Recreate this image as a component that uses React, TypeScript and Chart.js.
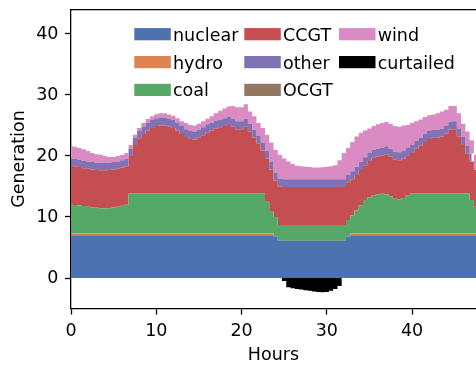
import { useEffect, useRef } from 'react';
import { Chart, registerables } from 'chart.js';

Chart.register(...registerables);

// Half-hourly steps, 0 .. 47.5 h
const HOURS: number[] = Array.from({ length: 96 }, (_, i) => i * 0.5);

const nuclear = [
  7, 7, 7, 7, 7, 7, 7, 7, 7, 7, 7, 7, 7, 7, 7, 7, 7, 7, 7, 7, 7, 7, 7, 7,
  7, 7, 7, 7, 7, 7, 7, 7, 7, 7, 7, 7, 7, 7, 7, 7, 7, 7, 7, 7, 7, 7, 7, 7,
  6.8, 6.1, 6.1, 6.1, 6.1, 6.1, 6.1, 6.1, 6.1, 6.1, 6.1, 6.1, 6.1, 6.1, 6.1, 6.1, 6.1, 6.8,
  7, 7, 7, 7, 7, 7, 7, 7, 7, 7, 7, 7, 7, 7, 7, 7, 7, 7, 7, 7, 7, 7, 7, 7, 7, 7, 7, 7, 7, 7,
];

const hydro = [
  0.35, 0.35, 0.35, 0.35, 0.35, 0.35, 0.35, 0.35, 0.35, 0.35, 0.35, 0.35,
  0.35, 0.35, 0.35, 0.35, 0.35, 0.35, 0.35, 0.35, 0.35, 0.35, 0.35, 0.35,
  0.35, 0.35, 0.35, 0.35, 0.35, 0.35, 0.35, 0.35, 0.35, 0.35, 0.35, 0.35,
  0.35, 0.35, 0.35, 0.35, 0.35, 0.35, 0.35, 0.35, 0.35, 0.35, 0.35, 0.35,
  0, 0, 0, 0, 0, 0, 0, 0, 0, 0, 0, 0, 0, 0, 0, 0, 0, 0,
  0.35, 0.35, 0.35, 0.35, 0.35, 0.35, 0.35, 0.35, 0.35, 0.35, 0.35, 0.35, 0.35, 0.35, 0.35,
  0.35, 0.35, 0.35, 0.35, 0.35, 0.35, 0.35, 0.35, 0.35, 0.35, 0.35, 0.35, 0.35, 0.35, 0.35,
];

const coal = [
  4.65, 4.6, 4.55, 4.45, 4.35, 4.25, 4.15, 4.1, 4.05, 4.1, 4.2, 4.35, 4.5, 4.65,
  6.55, 6.55, 6.55, 6.55, 6.55, 6.55, 6.55, 6.55, 6.55, 6.55, 6.55, 6.55, 6.55, 6.55, 6.55, 6.55,
  6.55, 6.55, 6.55, 6.55, 6.55, 6.55, 6.55, 6.55, 6.55, 6.55, 6.55, 6.55, 6.55, 6.55, 6.55, 6.55,
  5.15, 3.65, 3.2,
  2.6, 2.6, 2.6, 2.6, 2.6, 2.6, 2.6, 2.6, 2.6, 2.6, 2.6, 2.6, 2.6, 2.6, 2.6, 2.6,
  2.7, 2.95, 3.75, 4.55, 5.45, 5.85, 6.15, 6.35, 6.45, 6.35, 6.05, 5.65, 5.55, 5.75, 6.15,
  6.55, 6.55, 6.55, 6.55, 6.55, 6.55, 6.55, 6.55, 6.55, 6.55, 6.55, 6.55, 6.55, 6.55,
  5.45, 4.35,
];

const ccgt = [
  6.4, 6.35, 6.3, 6.2, 6.2, 6.2, 6.2, 6.2, 6.25, 6.25, 6.25, 6.2, 6.25, 6.3,
  6.1, 7.9, 9.0, 9.7, 10.3, 10.7, 11.0, 11.1, 11.1, 10.9, 10.7, 10.3, 9.7, 9.2, 8.9, 8.8,
  9.1, 9.5, 10.0, 10.3, 10.6, 10.8, 11.0, 11.2, 10.9, 10.5, 10.5, 10.9, 10.1, 9.1, 8.1, 7.0,
  7.1, 6.8, 6.0, 6.3,
  6.2, 6.2, 6.2, 6.2, 6.2, 6.2, 6.2, 6.2, 6.2, 6.2, 6.2, 6.2, 6.2, 6.2, 6.2,
  6.1, 5.9, 5.8, 5.8, 5.7, 6.0, 6.2, 6.2, 6.3, 6.6, 6.5, 6.4, 6.4, 6.5, 6.5,
  6.6, 7.3, 7.8, 8.4, 8.9, 9.1, 9.1, 9.3, 9.8, 10.4, 10.5, 9.3, 7.9, 6.5, 6.3, 6.0,
];

const other = [
  1.2, 1.2, 1.2, 1.2, 1.2, 1.2, 1.2, 1.2, 1.2, 1.2, 1.2, 1.2, 1.2, 1.2, 1.2, 1.2, 1.2,
  1.25, 1.3, 1.3, 1.3, 1.3, 1.3, 1.3, 1.3, 1.3, 1.3, 1.3, 1.3, 1.3, 1.3, 1.3,
  1.3, 1.3, 1.3, 1.3, 1.3, 1.3, 1.3, 1.3, 1.3, 1.3, 1.3, 1.3, 1.3, 1.3, 1.3, 1.3,
  1.3, 1.3, 1.3, 1.3, 1.3, 1.3, 1.3, 1.3, 1.3, 1.3, 1.3, 1.3, 1.3, 1.3, 1.3, 1.3,
  1.3, 1.3, 1.3, 1.3, 1.3, 1.3, 1.3, 1.3, 1.3, 1.3, 1.3, 1.3, 1.3, 1.3, 1.3, 1.3,
  1.3, 1.3, 1.3, 1.3, 1.3, 1.3, 1.3, 1.3, 1.3, 1.3, 1.3, 1.3, 1.3, 1.3, 1.3,
];

const ocgt = [
  0, 0, 0, 0, 0, 0, 0, 0, 0, 0, 0, 0, 0, 0, 0, 0, 0, 0, 0, 0, 0, 0, 0, 0,
  0, 0, 0, 0, 0, 0, 0, 0, 0, 0, 0, 0, 0, 0, 0, 0, 0, 0, 0, 0, 0, 0, 0, 0,
  0, 0, 0, 0, 0, 0, 0, 0, 0, 0, 0, 0, 0, 0, 0, 0, 0, 0, 0, 0, 0, 0, 0, 0,
  0, 0, 0, 0, 0, 0, 0, 0, 0, 0, 0, 0, 0, 0, 0, 0, 0, 0, 0, 0, 0, 0, 0, 0,
];

const wind = [
  2.0, 2.0, 1.9, 1.9, 1.7, 1.5, 1.4, 1.35, 1.15, 0.95, 0.85, 0.9, 0.85, 1.0, 0.6, 0.5, 0.5,
  0.55, 0.55, 0.6, 0.65, 0.7, 0.7, 0.7, 0.7, 0.7, 0.8, 1.0, 1.0, 1.0, 1.0, 1.0,
  0.9, 1.0, 1.2, 1.4, 1.6, 1.7, 2.1, 2.3, 2.3, 2.4, 2.0, 2.2, 2.1, 2.4, 2.6, 3.1, 3.7, 3.9,
  3.4, 2.9, 2.5, 2.2, 2.1, 2.05, 2.0, 1.9, 1.9, 1.95, 2.05, 2.1, 2.3, 3.1, 4.3,
  4.4, 4.8, 5.0, 4.8, 4.4, 4.0, 3.9, 4.0, 4.0, 4.0, 4.1, 4.2, 4.2, 4.1, 3.8,
  3.6, 3.2, 3.0, 2.8, 2.6, 2.5, 2.7, 2.8, 2.6, 2.6, 2.5, 2.5, 2.2, 2.3, 2.2, 2.5,
];

const curtailed = [
  0, 0, 0, 0, 0, 0, 0, 0, 0, 0, 0, 0, 0, 0, 0, 0, 0, 0, 0, 0, 0, 0, 0, 0, 0,
  0, 0, 0, 0, 0, 0, 0, 0, 0, 0, 0, 0, 0, 0, 0, 0, 0, 0, 0, 0, 0, 0, 0, 0, 0,
  -0.5, -1.5, -1.7, -1.8, -1.9, -2.0, -2.1, -2.2, -2.3, -2.35, -2.3, -2.1, -1.8, -1.3,
  0, 0, 0, 0, 0, 0, 0, 0, 0, 0, 0, 0, 0, 0, 0, 0,
  0, 0, 0, 0, 0, 0, 0, 0, 0, 0, 0, 0, 0, 0, 0, 0,
];

const X_TICKS = [0, 10, 20, 30, 40];
const Y_TICKS = [0, 10, 20, 30, 40];

const COLORS = {
  nuclear: '#4C72B0',
  hydro: '#DD8452',
  coal: '#55A868',
  CCGT: '#C44E52',
  other: '#8172B3',
  OCGT: '#937860',
  wind: '#DA8BC3',
  curtailed: '#000000',
};

const FONT_FAMILY = '"DejaVu Sans", sans-serif';
const FONT_SIZE = 17.5;

// legend layout in 3 columns
const LEGEND_COLUMNS: string[][] = [
  ['nuclear', 'hydro', 'coal'],
  ['CCGT', 'other', 'OCGT'],
  ['wind', 'curtailed'],
];

export default function App() {
  const ref = useRef<HTMLCanvasElement | null>(null);

  useEffect(() => {
    if (!ref.current) return;

    const mk = (label: string, values: number[], fill: any, stack: string) => ({
      label,
      data: values.map((y, i) => ({ x: HOURS[i], y })),
      backgroundColor: (COLORS as any)[label],
      borderColor: (COLORS as any)[label],
      borderWidth: 0,
      pointRadius: 0,
      pointHoverRadius: 0,
      stepped: 'middle' as const,
      fill,
      stack,
    });

    const topSpine = {
      id: 'topSpine',
      afterDraw(chart: any) {
        const { ctx, chartArea } = chart;
        ctx.save();
        ctx.strokeStyle = '#000';
        ctx.lineWidth = 1.3;
        ctx.beginPath();
        ctx.moveTo(chartArea.left - 0.65, chartArea.top);
        ctx.lineTo(chartArea.right + 2, chartArea.top);
        ctx.stroke();
        ctx.restore();
      },
    };

    const legendPlugin = {
      id: 'customLegend',
      afterDraw(chart: any) {
        const { ctx } = chart;
        const colX = [134.3, 244.3, 339];
        const rowY = [34.2, 62.1, 89.9];
        const pw = 36.5;
        const ph = 12.2;
        ctx.save();
        ctx.font = `${FONT_SIZE}px ${FONT_FAMILY}`;
        ctx.textBaseline = 'alphabetic';
        ctx.textAlign = 'left';
        LEGEND_COLUMNS.forEach((col, ci) => {
          col.forEach((name, ri) => {
            const x = colX[ci];
            const cy = rowY[ri];
            ctx.fillStyle = (COLORS as any)[name];
            ctx.fillRect(x, cy - ph / 2, pw, ph);
            ctx.fillStyle = '#000';
            ctx.fillText(name, x + pw + 2.2, cy + 6.5);
          });
        });
        ctx.restore();
      },
    };

    const tickFont = { family: FONT_FAMILY, size: FONT_SIZE };

    const chart = new Chart(ref.current, {
      type: 'line',
      data: {
        datasets: [
          mk('nuclear', nuclear, 'origin', 'gen'),
          mk('hydro', hydro, '-1', 'gen'),
          mk('coal', coal, '-1', 'gen'),
          mk('CCGT', ccgt, '-1', 'gen'),
          mk('other', other, '-1', 'gen'),
          mk('OCGT', ocgt, '-1', 'gen'),
          mk('wind', wind, '-1', 'gen'),
          mk('curtailed', curtailed, 'origin', 'curt'),
        ] as any,
      },
      options: {
        animation: false,
        responsive: false,
        devicePixelRatio: 1,
        layout: { padding: { top: 9.6, right: 0, left: 0, bottom: 0 } },
        plugins: {
          legend: { display: false },
          tooltip: { enabled: false },
        },
        elements: { line: { tension: 0 } },
        scales: {
          x: {
            type: 'linear',
            min: 0,
            max: 47.5,
            afterBuildTicks: (s: any) => {
              s.ticks = X_TICKS.map((v) => ({ value: v }));
            },
            afterFit: (s: any) => {
              s.height = 56.5;
              s.paddingLeft = 0;
              s.paddingRight = 0;
            },
            grid: {
              display: true,
              drawOnChartArea: false,
              drawTicks: true,
              tickLength: 6,
              tickColor: '#000',
              tickWidth: 1.3,
            },
            border: { display: true, color: '#000', width: 1.3 },
            ticks: {
              color: '#000',
              font: tickFont,
              padding: 6.5,
              maxRotation: 0,
              autoSkip: false,
            },
            title: {
              display: true,
              text: 'Hours',
              color: '#000',
              font: tickFont,
              padding: { top: 0, bottom: -1 },
            },
          },
          y: {
            type: 'linear',
            stacked: true,
            min: -5,
            max: 44,
            afterBuildTicks: (s: any) => {
              s.ticks = Y_TICKS.map((v) => ({ value: v }));
            },
            afterFit: (s: any) => {
              s.width = 71;
              s.paddingTop = 0;
              s.paddingBottom = 0;
            },
            grid: {
              display: true,
              drawOnChartArea: false,
              drawTicks: true,
              tickLength: 6,
              tickColor: '#000',
              tickWidth: 1.3,
            },
            border: { display: true, color: '#000', width: 1.3 },
            ticks: {
              color: '#000',
              font: tickFont,
              padding: 6.5,
              autoSkip: false,
            },
            title: {
              display: true,
              text: 'Generation',
              color: '#000',
              font: tickFont,
              padding: { top: 9, bottom: 0 },
            },
          },
        },
      } as any,
      plugins: [topSpine, legendPlugin],
    });

    return () => chart.destroy();
  }, []);

  return (
    <canvas
      ref={ref}
      width={476}
      height={365}
      style={{ position: 'fixed', left: 0, top: 0, width: 476, height: 365, display: 'block' }}
    />
  );
}
